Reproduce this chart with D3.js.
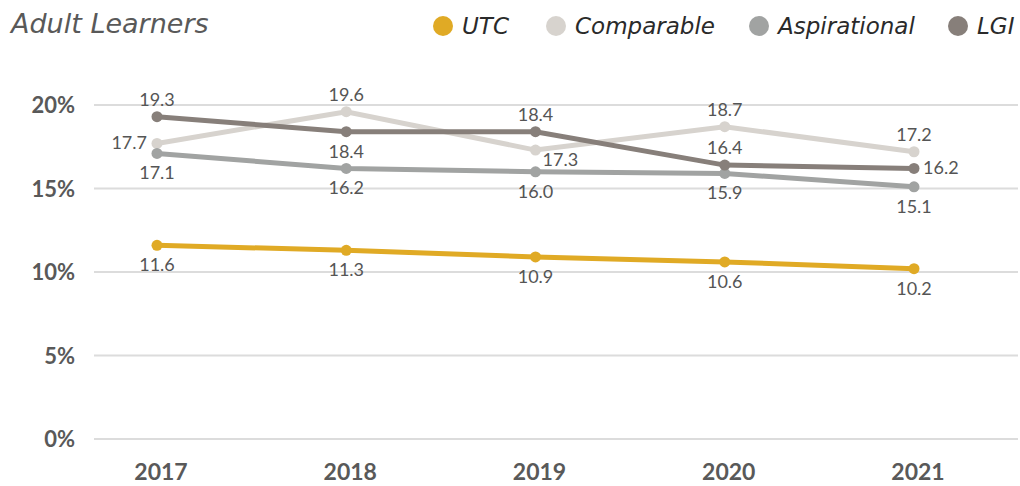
<!DOCTYPE html>
<html>
<head>
<meta charset="utf-8">
<script src="https://cdn.jsdelivr.net/npm/d3@7"></script>
<style>
  body { margin: 0; background: #fff; }
  svg { display: block; font-family: Lato, "Open Sans", sans-serif; }
  .wide { font-family: "DejaVu Sans", sans-serif; }
</style>
</head>
<body>
<svg id="chart" width="1020" height="486"></svg>
<script>
const years = ["2017", "2018", "2019", "2020", "2021"];
const seriesNames = ["UTC", "Comparable", "Aspirational", "LGI"];
const utcValues = [11.6, 11.3, 10.9, 10.6, 10.2];
const comparableValues = [17.7, 19.6, 17.3, 18.7, 17.2];
const aspirationalValues = [17.1, 16.2, 16.0, 15.9, 15.1];
const lgiValues = [19.3, 18.4, 18.4, 16.4, 16.2];
const yTicks = [0, 5, 10, 15, 20];

// where each value label sits relative to its point
const utcLabelPos = ["below", "below", "below", "below", "below"];
const comparableLabelPos = ["left", "above", "belowright", "above", "above"];
const aspirationalLabelPos = ["below", "below", "below", "below", "below"];
const lgiLabelPos = ["above", "below", "above", "above", "right"];

const colors = ["#e0aa25", "#d7d3ce", "#a1a3a2", "#877f7a"];

const series = [
  {name: seriesNames[0], values: utcValues, pos: utcLabelPos, color: colors[0]},
  {name: seriesNames[1], values: comparableValues, pos: comparableLabelPos, color: colors[1]},
  {name: seriesNames[2], values: aspirationalValues, pos: aspirationalLabelPos, color: colors[2]},
  {name: seriesNames[3], values: lgiValues, pos: lgiLabelPos, color: colors[3]}
];

const svg = d3.select("#chart");

const x = d3.scalePoint().domain(years).range([157, 914]);
const y = d3.scaleLinear().domain([0, 20]).range([439, 105]);

// gridlines
svg.append("g")
  .selectAll("line")
  .data(yTicks)
  .enter()
  .append("line")
  .attr("x1", 94)
  .attr("x2", 1018)
  .attr("y1", d => y(d))
  .attr("y2", d => y(d))
  .attr("stroke", "#dcdcdc")
  .attr("stroke-width", 2);

// y axis labels
svg.append("g")
  .selectAll("text")
  .data(yTicks)
  .enter()
  .append("text")
  .attr("x", 75)
  .attr("y", d => y(d) + 8)
  .attr("text-anchor", "end")
  .attr("font-size", 22)
  .attr("font-weight", "bold")
  .attr("fill", "#595959")
  .text(d => d + "%");

// x axis labels
svg.append("g")
  .selectAll("text")
  .data(years)
  .enter()
  .append("text")
  .attr("x", d => x(d) + 4)
  .attr("y", 480)
  .attr("text-anchor", "middle")
  .attr("font-size", 23)
  .attr("font-weight", "bold")
  .attr("fill", "#595959")
  .text(d => d);

const line = d3.line()
  .x((d, i) => x(years[i]))
  .y(d => y(d));

// draw back to front: Comparable, Aspirational, LGI, UTC
const order = [1, 2, 3, 0];
order.forEach(k => {
  const s = series[k];
  const g = svg.append("g");
  g.append("path")
    .datum(s.values)
    .attr("d", line)
    .attr("fill", "none")
    .attr("stroke", s.color)
    .attr("stroke-width", 5);
  g.selectAll("circle")
    .data(s.values)
    .enter()
    .append("circle")
    .attr("cx", (d, i) => x(years[i]))
    .attr("cy", d => y(d))
    .attr("r", 5.5)
    .attr("fill", s.color);
});

// value labels
series.forEach(s => {
  svg.append("g")
    .selectAll("text")
    .data(s.values)
    .enter()
    .append("text")
    .attr("font-size", 18)
    .attr("fill", "#555")
    .attr("text-anchor", (d, i) => s.pos[i] === "left" ? "end" : (s.pos[i] === "right" || s.pos[i] === "belowright") ? "start" : "middle")
    .attr("x", (d, i) => {
      const px = x(years[i]);
      if (s.pos[i] === "left") return px - 10;
      if (s.pos[i] === "right") return px + 9;
      if (s.pos[i] === "belowright") return px + 7;
      return px;
    })
    .attr("y", (d, i) => {
      const py = y(d);
      if (s.pos[i] === "above") return py - 11;
      if (s.pos[i] === "below") return py + 26;
      if (s.pos[i] === "belowright") return py + 16;
      return py + 6;
    })
    .text(d => d.toFixed(1));
});

// title
svg.append("text")
  .attr("class", "wide")
  .attr("x", 11)
  .attr("y", 33)
  .attr("font-size", 27)
  .attr("font-style", "italic")
  .attr("fill", "#595959")
  .text("Adult Learners");

// legend
const legendX = [443, 556, 759, 958];
const legend = svg.append("g")
  .selectAll("g")
  .data(series)
  .enter()
  .append("g")
  .attr("transform", (d, i) => `translate(${legendX[i]}, 26)`);
legend.append("circle")
  .attr("r", 10)
  .attr("fill", d => d.color);
legend.append("text")
  .attr("class", "wide")
  .attr("x", 19)
  .attr("y", 8)
  .attr("font-size", 23)
  .attr("font-style", "italic")
  .attr("fill", "#2a2a2a")
  .text(d => d.name);
</script>
</body>
</html>
